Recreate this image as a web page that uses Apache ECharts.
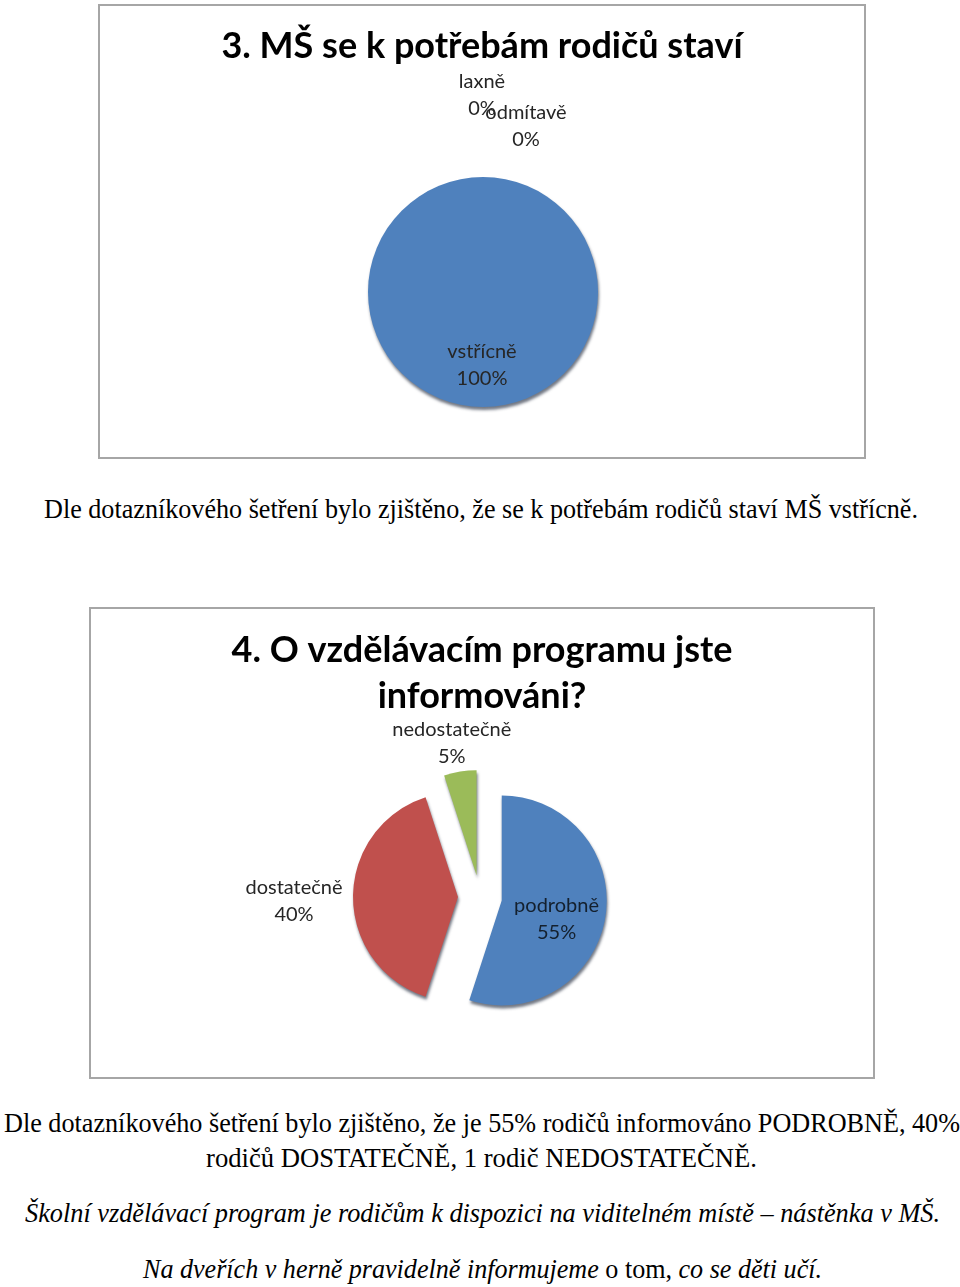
<!DOCTYPE html>
<html><head><meta charset="utf-8">
<script src="https://cdn.jsdelivr.net/npm/echarts@6/dist/echarts.min.js"></script>
<style>
html,body{margin:0;padding:0;background:#fff}
body{width:960px;height:1287px;position:relative;overflow:hidden}
.c{position:absolute}
.t{position:absolute;white-space:nowrap;font-family:"Liberation Serif";font-size:27px;line-height:27px;color:#000;transform-origin:0 0}
.i{font-style:italic}
</style></head>
<body>
<div id="c1" class="c" style="left:98px;top:4px;width:768px;height:455px"></div>
<div id="c2" class="c" style="left:89px;top:607px;width:786px;height:472px"></div>
<span class="t" data-l="44" data-w="874" data-b="519">Dle dotazníkového šetření bylo zjištěno, že se k potřebám rodičů staví MŠ vstřícně.</span>
<span class="t" data-l="4" data-w="956" data-b="1133">Dle dotazníkového šetření bylo zjištěno, že je 55% rodičů informováno PODROBNĚ, 40%</span>
<span class="t" data-l="206" data-w="551" data-b="1168">rodičů DOSTATEČNĚ, 1 rodič NEDOSTATEČNĚ.</span>
<span class="t i" data-l="25" data-w="915" data-b="1223">Školní vzdělávací program je rodičům k dispozici na viditelném místě – nástěnka v MŠ.</span>
<span class="t" data-l="143" data-w="679" data-b="1279"><span class="i">Na dveřích v herně pravidelně informujeme</span> o tom, <span class="i">co se děti učí.</span></span>
<script>
// ---- data ----
const chart1Title = '3. MŠ se k potřebám rodičů staví';
const chart1Categories = ['vstřícně', 'laxně', 'odmítavě'];
const chart1Values = [20, 0, 0];

const chart2Title = '4. O vzdělávacím programu jste\ninformováni?';
const chart2Categories = ['podrobně', 'dostatečně', 'nedostatečně'];
const chart2Values = [11, 8, 1];

// ---- styles ----
const palette = ['#4F81BD', '#C0504D', '#9BBB59'];
const labelFont = 'Lato, "Open Sans", sans-serif';

document.querySelectorAll('.t').forEach(function (el) {
  const w = el.getBoundingClientRect().width;
  const k = (+el.dataset.w) / w;
  el.style.left = el.dataset.l + 'px';
  el.style.top = (+el.dataset.b - 23) + 'px';
  el.style.transform = 'scaleX(' + k + ')';
});

function frame(w, h) {
  return [{
    type: 'rect', left: 0, top: 0, silent: true,
    shape: { x: 1, y: 1, width: w - 2, height: h - 2 },
    style: { fill: '#fff', stroke: '#a6a6a6', lineWidth: 2 }, z: -1
  }];
}

function pct(p) { return p.name + '\n' + Math.round(p.percent) + '%'; }

const shadow = { shadowBlur: 3, shadowOffsetY: 3, shadowOffsetX: 1, shadowColor: 'rgba(20,30,50,0.6)' };

const c1 = echarts.init(document.getElementById('c1'));
c1.setOption({
  color: palette,
  animation: false,
  graphic: frame(768, 455),
  title: {
    text: chart1Title, left: 'center', top: 19,
    textStyle: { fontFamily: labelFont, fontWeight: 'bold', fontSize: 36, color: '#000' }
  },
  series: [{
    type: 'pie',
    center: [385, 288],
    radius: 115,
    startAngle: 90,
    clockwise: true,
    avoidLabelOverlap: false,
    itemStyle: shadow,
    emphasis: { disabled: true },
    label: {
      show: true, formatter: pct, fontFamily: labelFont, fontSize: 20, lineHeight: 27, color: '#262626'
    },
    labelLine: { show: false },
    labelLayout: function (p) {
      if (p.dataIndex === 0) return { x: 384, y: 361, align: 'center', verticalAlign: 'middle' };
      if (p.dataIndex === 1) return { x: 384, y: 91, align: 'center', verticalAlign: 'middle' };
      return { x: 428, y: 122, align: 'center', verticalAlign: 'middle' };
    },
    data: chart1Categories.map(function (n, i) {
      return { name: n, value: chart1Values[i], label: { position: i === 0 ? 'inside' : 'outside' } };
    })
  }]
});

const c2 = echarts.init(document.getElementById('c2'));
c2.setOption({
  color: palette,
  animation: false,
  graphic: frame(786, 472),
  title: {
    text: chart2Title, left: 'center', top: 15,
    textStyle: { fontFamily: labelFont, fontWeight: 'bold', fontSize: 36, lineHeight: 46, color: '#000' }
  },
  series: [{
    type: 'pie',
    center: [391, 290],
    radius: 105,
    startAngle: 90,
    clockwise: true,
    selectedMode: 'multiple',
    selectedOffset: 22,
    avoidLabelOverlap: false,
    itemStyle: shadow,
    emphasis: { disabled: true },
    select: { itemStyle: shadow },
    label: {
      show: true, formatter: pct, fontFamily: labelFont, fontSize: 20, lineHeight: 27, color: '#262626'
    },
    labelLine: { show: false },
    labelLayout: function (p) {
      if (p.dataIndex === 1) return { x: 196, y: 297, dx: -9, dy: 4, align: 'center', verticalAlign: 'middle' };
      if (p.dataIndex === 2) return { x: 392, y: 122, dx: 29, dy: -14, align: 'center', verticalAlign: 'middle' };
      return { dy: 10 };
    },
    data: chart2Categories.map(function (n, i) {
      return {
        name: n, value: chart2Values[i], selected: true,
        label: i === 0 ? { position: 'inside', color: '#14202e' } : { position: 'outside' }
      };
    })
  }]
});
</script>
</body></html>
